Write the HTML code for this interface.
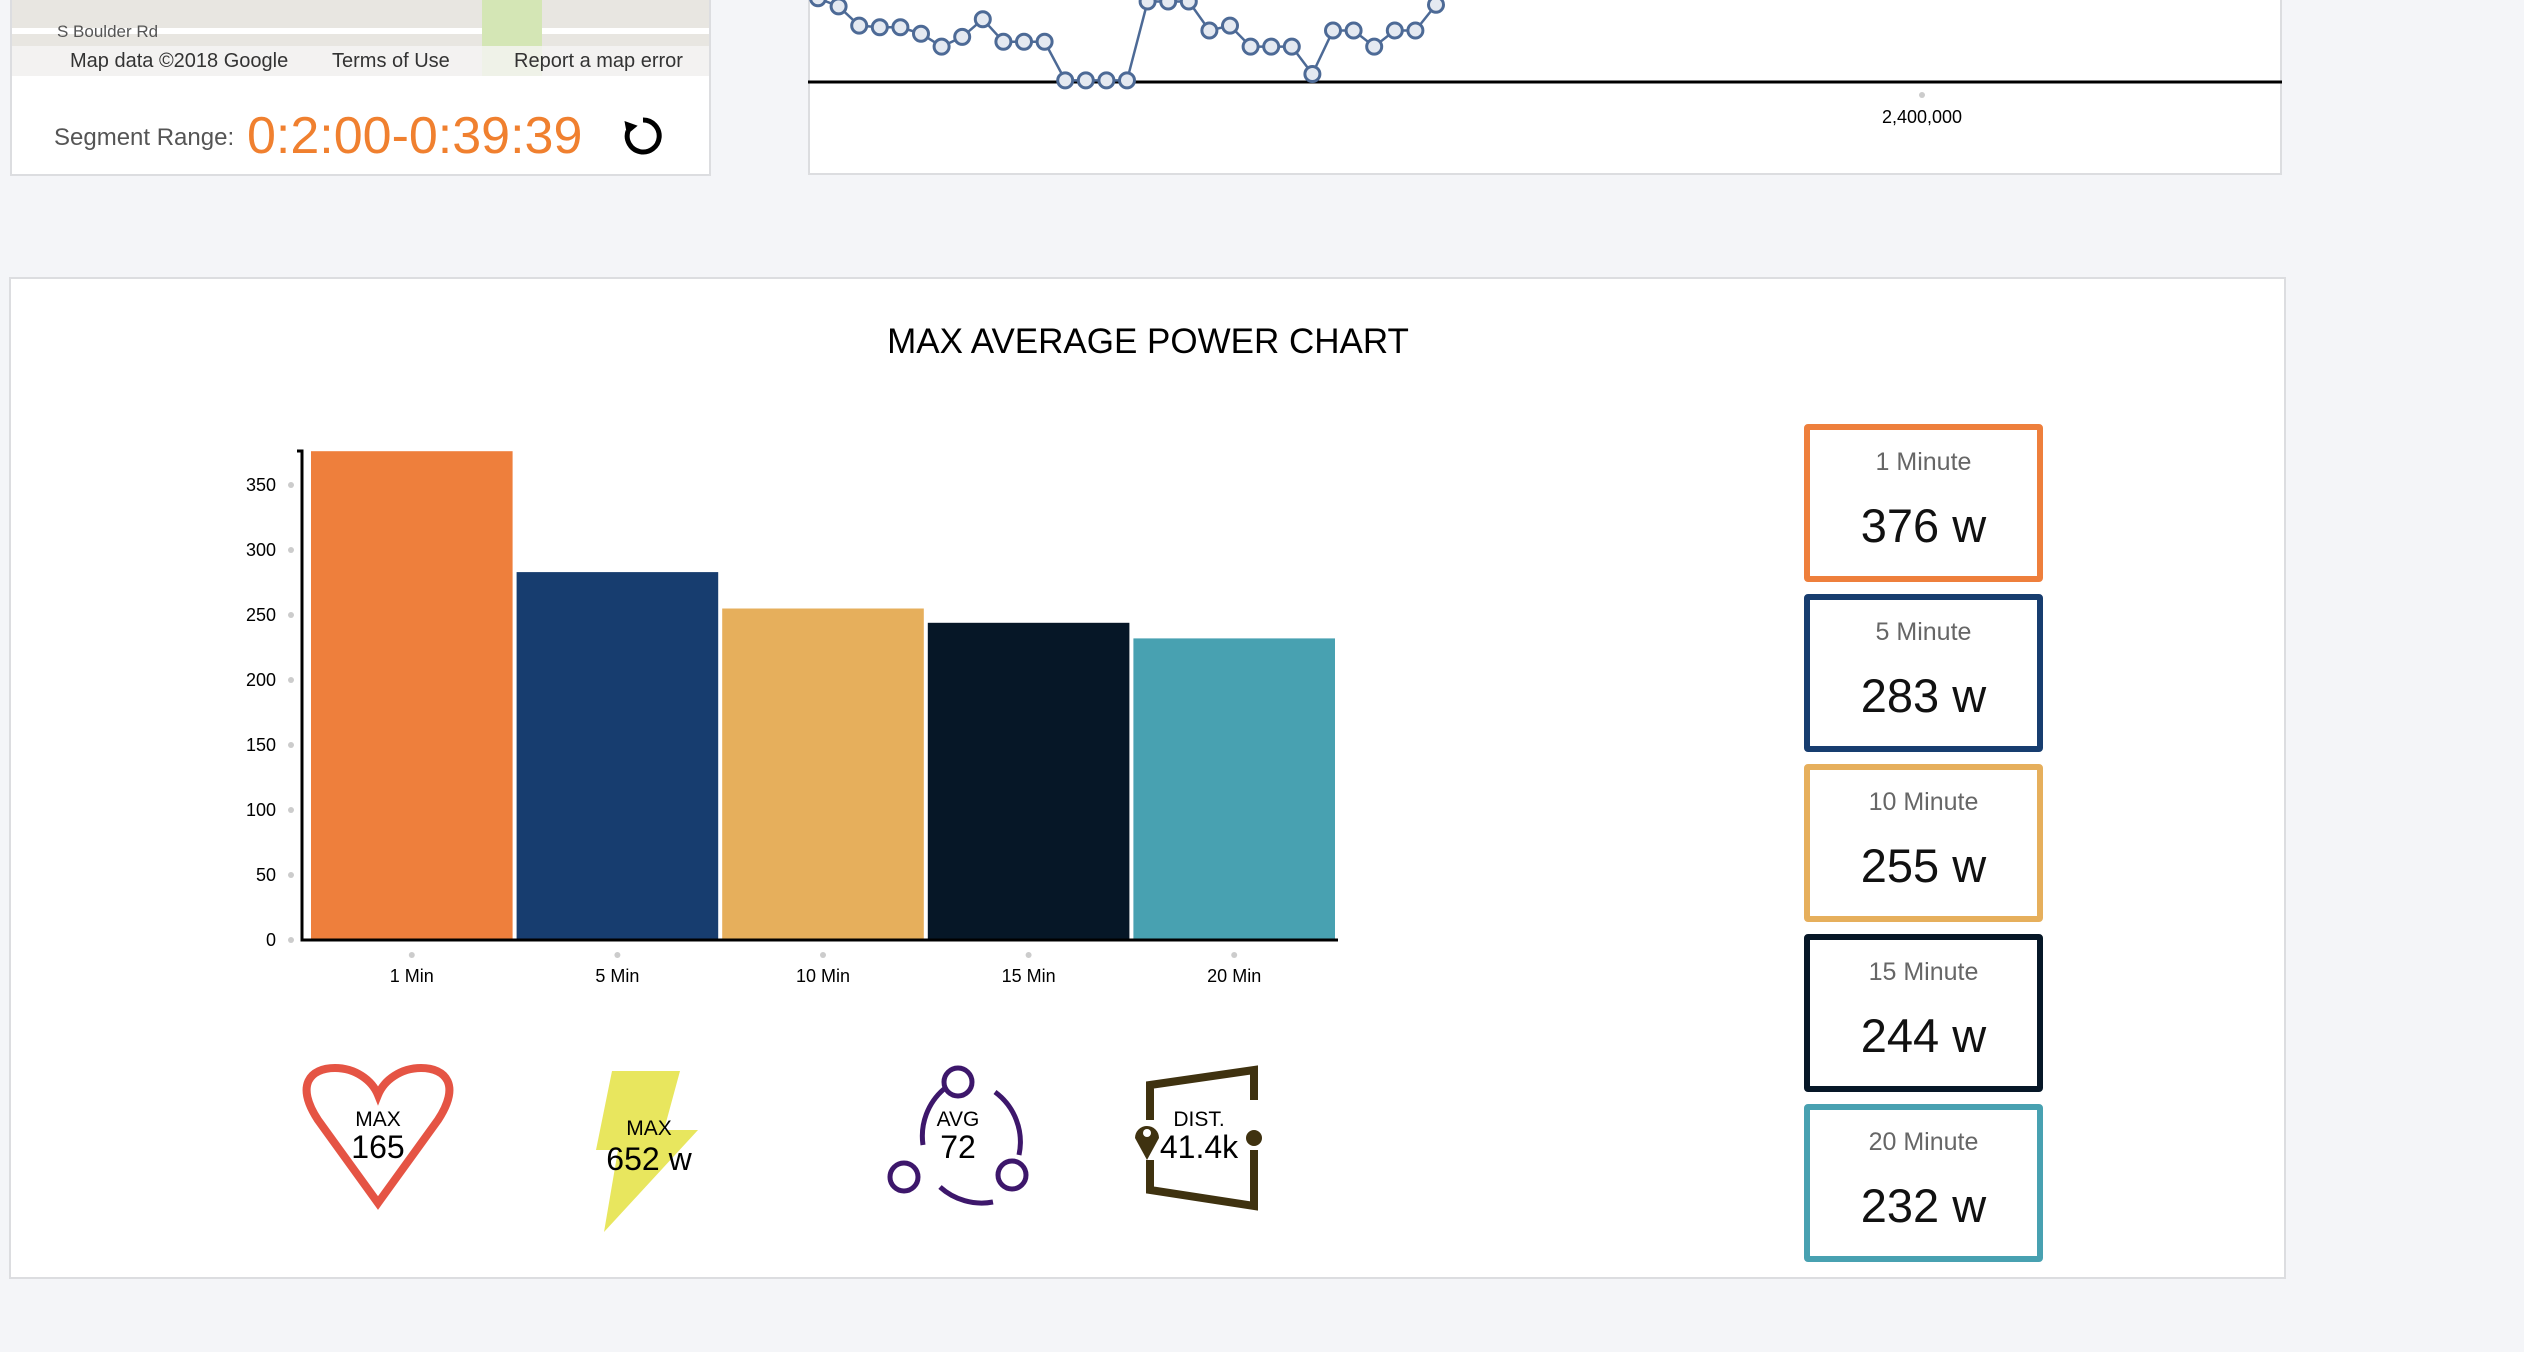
<!DOCTYPE html>
<html><head><meta charset="utf-8">
<style>
body{margin:0;width:2524px;height:1352px;background:#f4f5f8;font-family:"Liberation Sans",sans-serif;position:relative;overflow:hidden}
.panel{position:absolute;background:#fff;border:2px solid #dcdde0;box-sizing:border-box}
.card{position:absolute;left:1804px;width:239px;height:158px;border:6px solid;border-radius:4px;box-sizing:border-box;background:#fff;text-align:center}
.card .l{position:absolute;top:18px;width:100%;font-size:25px;color:#666}
.card .v{position:absolute;top:68px;width:100%;font-size:47px;color:#111}
</style></head><body>
<div class="panel" style="left:10px;top:-4px;width:701px;height:180px">
  <div style="position:absolute;left:0;top:0;width:697px;height:78px;background:#e8e6e1">
    <div style="position:absolute;left:0;top:30px;width:697px;height:6px;background:#fff"></div>
    <div style="position:absolute;left:470px;top:0;width:60px;height:78px;background:#d4e6b5"></div>
    <div style="position:absolute;left:0;top:48px;width:697px;height:30px;background:rgba(245,245,245,.8)"></div>
    <span style="position:absolute;left:45px;top:24px;font-size:17px;color:#555">S Boulder Rd</span>
    <span style="position:absolute;left:58px;top:52px;font-size:20px;color:#333">Map data ©2018 Google</span>
    <span style="position:absolute;left:320px;top:52px;font-size:20px;color:#333">Terms of Use</span>
    <span style="position:absolute;left:502px;top:52px;font-size:20px;color:#333">Report a map error</span>
  </div>
  <span style="position:absolute;left:42px;top:126px;font-size:24px;color:#555">Segment Range:</span>
  <span style="position:absolute;left:235px;top:108px;font-size:52px;color:#f0802f">0:2:00-0:39:39</span>
  <svg style="position:absolute;left:608px;top:115px" width="46" height="46" viewBox="0 0 46 46"><path d="M23 7 A16 16 0 1 1 8 18" fill="none" stroke="#000" stroke-width="5"/><polygon points="2,10 16,10 9,22" fill="#000" transform="rotate(20 9 16)"/></svg>
</div>
<div class="panel" style="left:808px;top:-4px;width:1474px;height:179px">
  <svg id="lc" width="1474" height="179" style="position:absolute;left:-2px;top:2px"></svg>
</div>
<div class="panel" style="left:9px;top:277px;width:2277px;height:1002px"></div>
<div style="position:absolute;left:0;width:2296px;top:322px;text-align:center;font-size:35px;color:#000">MAX AVERAGE POWER CHART</div>
<svg id="bc" width="2524" height="1352" style="position:absolute;left:0;top:0"></svg>
<div class="card" style="top:424px;border-color:#ee7f3c"><div class="l">1 Minute</div><div class="v">376 w</div></div>
<div class="card" style="top:594px;border-color:#173d6f"><div class="l">5 Minute</div><div class="v">283 w</div></div>
<div class="card" style="top:764px;border-color:#e6af5c"><div class="l">10 Minute</div><div class="v">255 w</div></div>
<div class="card" style="top:934px;border-color:#061727"><div class="l">15 Minute</div><div class="v">244 w</div></div>
<div class="card" style="top:1104px;border-color:#48a1b1"><div class="l">20 Minute</div><div class="v">232 w</div></div>
<svg width="2524" height="1352" style="position:absolute;left:0;top:0" font-family="Liberation Sans, sans-serif" text-anchor="middle">
  <g>
    <path d="M378 1203 L318 1120 C295 1085 310 1068 335 1068 C355 1068 372 1080 378 1095 C384 1080 401 1068 421 1068 C446 1068 461 1085 438 1120 Z" fill="none" stroke="#e55444" stroke-width="8"/>
    <text x="378" y="1126" font-size="21">MAX</text><text x="378" y="1158" font-size="32">165</text>
  </g>
  <g>
    <polygon points="612,1071 680,1071 664,1130 698,1130 604,1232 618,1150 596,1150" fill="#e8e65e"/>
    <text x="649" y="1135" font-size="21">MAX</text><text x="649" y="1170" font-size="32">652 w</text>
  </g>
  <g fill="none" stroke="#3d176b" stroke-width="5">
    <path d="M923 1145 A62 62 0 0 1 944 1089"/><path d="M995 1092 A62 62 0 0 1 1019 1155"/><path d="M940 1187 A62 62 0 0 0 993 1202"/>
    <circle cx="958" cy="1082" r="14"/><circle cx="904" cy="1177" r="14"/><circle cx="1012" cy="1175" r="14"/>
    <text x="958" y="1126" font-size="21" fill="#000" stroke="none">AVG</text><text x="958" y="1158" font-size="32" fill="#000" stroke="none">72</text>
  </g>
  <g>
    <polyline points="1150,1120 1150,1085 1254,1070 1254,1100" fill="none" stroke="#3f3210" stroke-width="8"/>
    <polyline points="1254,1150 1254,1206 1150,1190 1150,1160" fill="none" stroke="#3f3210" stroke-width="8"/>
    <path d="M1147 1160 L1135 1138 A12 12 0 1 1 1159 1138 Z" fill="#3f3210"/><circle cx="1147" cy="1133" r="4" fill="#fff"/>
    <circle cx="1254" cy="1138" r="8" fill="#3f3210"/>
    <text x="1199" y="1126" font-size="21">DIST.</text><text x="1199" y="1158" font-size="32">41.4k</text>
  </g>
</svg>
<script>
const NS='http://www.w3.org/2000/svg';
function mk(p,t,a){const e=document.createElementNS(NS,t);for(const k in a)e.setAttribute(k,a[k]);p.appendChild(e);return e;}
const categories=['1 Min','5 Min','10 Min','15 Min','20 Min'];
const values=[376,283,255,244,232];
const colors=['#ee7f3c','#173d6f','#e6af5c','#061727','#48a1b1'];
const yTicks=[0,50,100,150,200,250,300,350];
const bc=document.getElementById('bc');
const y0=940,yk=1.3,x0=307,step=205.6;
const ys=v=>y0-v*yk, xs=i=>x0+i*step;
values.forEach((v,i)=>{const r=mk(bc,'rect',{x:xs(i)+4,y:ys(v),width:step-4,height:v*yk,fill:colors[i]});


const d=mk(bc,'circle',{cx:xs(i)+step/2+2,cy:955,r:3,fill:'#ccc'});
const t=mk(bc,'text',{x:xs(i)+step/2+2,y:982,'font-size':18,'text-anchor':'middle','font-family':'Liberation Sans'});t.textContent=categories[i];

});
yTicks.forEach(v=>{mk(bc,'circle',{cx:291,cy:ys(v),r:3,fill:'#ccc'});
const t=mk(bc,'text',{x:276,y:ys(v)+6,'font-size':18,'text-anchor':'end','font-family':'Liberation Sans'});t.textContent=v;

});
const ax=mk(bc,'path',{d:'M297 451 H302 V940 H1338',fill:'none',stroke:'#000','stroke-width':3});


// top line chart
const lineVals=[52,47,35,34,34,30,22,28,39,25,25,25,1,1,1,1,50,50,50,32,35,22,22,22,5,32,32,22,32,32,48];
const lc=document.getElementById('lc');
const lx=i=>10+i*20.6, ly=v=>82-v*1.61;
mk(lc,'line',{x1:0,x2:1474,y1:82,y2:82,stroke:'#000','stroke-width':3});
mk(lc,'polyline',{points:lineVals.map((v,i)=>lx(i)+','+ly(v)).join(' '),fill:'none',stroke:'#4d6a96','stroke-width':2.5});
lineVals.forEach((v,i)=>{const c=mk(lc,'circle',{cx:lx(i),cy:ly(v),r:7.5,fill:'#e4e9f1',stroke:'#4d6a96','stroke-width':3});

});
mk(lc,'circle',{cx:1114,cy:95,r:3,fill:'#ccc'});
const lt=mk(lc,'text',{x:1114,y:123,'font-size':18,'text-anchor':'middle','font-family':'Liberation Sans'});lt.textContent='2,400,000';
</script>
</body></html>
